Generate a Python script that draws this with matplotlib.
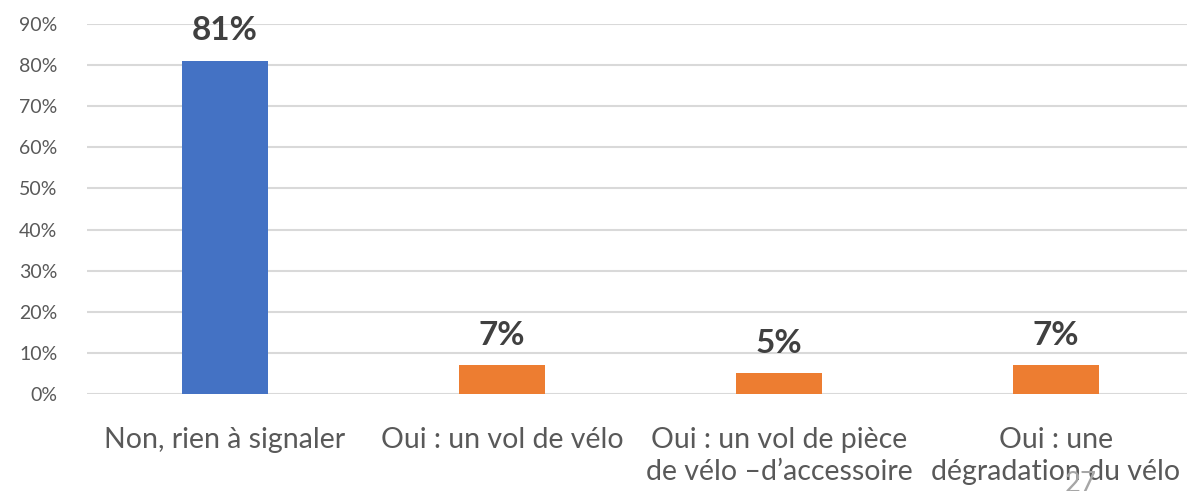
import matplotlib.pyplot as plt

categories = ["Non, rien à signaler", "Oui : un vol de vélo",
              "Oui : un vol de pièce\nde vélo –d’accessoire", "Oui : une\ndégradation du vélo"]
values = [81, 7, 5, 7]
labels = ["81%", "7%", "5%", "7%"]
colors = ["#4472C4", "#ED7D31", "#ED7D31", "#ED7D31"]
yticks = [0, 10, 20, 30, 40, 50, 60, 70, 80, 90]

plt.rcParams['font.family'] = ['Lato', 'DejaVu Sans']

fig = plt.figure(figsize=(11.87, 4.91), dpi=100)
ax = fig.add_axes([86.5 / 1187, 1 - 394 / 491, 1108 / 1187, 370 / 491])

x = range(len(categories))
ax.bar(x, values, width=0.31, color=colors, zorder=3)
for i, v in enumerate(values):
    ax.text(i, v + 7.3, labels[i], ha='center', va='center', fontsize=24,
            fontweight='bold', color='#404040', zorder=4)

ax.set_xlim(-0.5, len(categories) - 0.5)
ax.set_ylim(0, 90)
ax.set_yticks(yticks)
ax.set_yticklabels([f"{t}%" for t in yticks], fontsize=14, color='#595959')
ax.set_xticks(list(x))
ax.set_xticklabels(categories, fontsize=20.5, color='#595959', linespacing=1.25)
ax.tick_params(axis='both', length=0)
ax.tick_params(axis='x', pad=24)
ax.tick_params(axis='y', pad=21)
ax.yaxis.grid(True, color='#D9D9D9', linewidth=1.5, zorder=0)
for s in ax.spines.values():
    s.set_visible(False)

fig.text(1081 / 1187, 1 - 484 / 491, "27", fontsize=20, color='#A6A6A6',
         ha='center', va='center')

fig.savefig("out.png", dpi=100)
